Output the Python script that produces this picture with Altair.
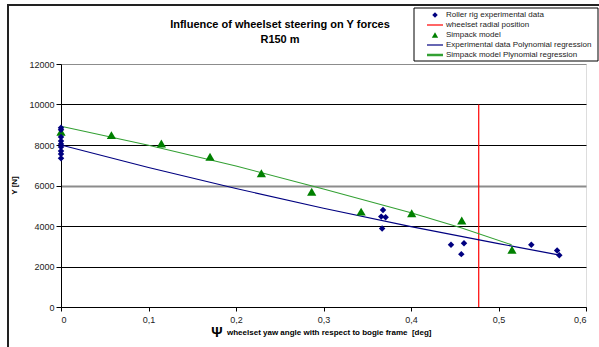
import altair as alt
import pandas as pd

# ---- data ----
exp_x = [0, 0, 0, 0, 0, 0, 0, 0, 0,
         0.368, 0.366, 0.371, 0.367, 0.4457, 0.4606, 0.4575, 0.5375, 0.567, 0.5695]
exp_y = [8850, 8750, 8400, 8200, 8050, 7900, 7700, 7550, 7350,
         4793, 4463, 4433, 3872, 3069, 3153, 2611, 3069, 2788, 2561]
sim_x = [0, 0.0576, 0.1147, 0.1703, 0.229, 0.2865, 0.343, 0.4008, 0.458, 0.5154]
sim_y = [8650, 8488, 8079, 7419, 6601, 5695, 4710, 4630, 4266, 2823]
exp_fit_x = [0, 0.1, 0.2, 0.3, 0.4, 0.5, 0.57]
exp_fit_y = [8000, 6890, 5850, 4880, 3970, 3130, 2560]
sim_fit_x = [0, 0.1, 0.2, 0.3, 0.4, 0.458, 0.515]
sim_fit_y = [8930, 7990, 6960, 5830, 4650, 3900, 3070]
radial_x = [0.4774, 0.4774]
radial_y = [0, 10000]

x_ticks = [0, 0.1, 0.2, 0.3, 0.4, 0.5, 0.6]
y_ticks = [0, 2000, 4000, 6000, 8000, 10000, 12000]

title_lines = ["Influence of wheelset steering on Y forces", "R150 m"]
y_title = "Y [N]"
x_title_symbol = "Ψ"
x_title = "wheelset yaw angle with respect to bogie frame \u00a0[deg]"
legend_labels = ["Roller rig experimental data", "wheelset radial position",
                 "Simpack model", "Experimental data Polynomial regression",
                 "Simpack model Plynomial regression"]

FONT = "Liberation Sans"
NAVY = "#000080"
GREEN_PT = "#008000"
GREEN_LN = "#33a033"
RED = "#ff0000"

W, H = 525, 243

x_scale = alt.Scale(domain=[0, 0.6], nice=False, zero=False)
y_scale = alt.Scale(domain=[0, 12000], nice=False)

x_axis = alt.Axis(values=x_ticks, grid=False, title=None,
                  labelExpr="replace(format(datum.value, '.1~f'), '.', ',')",
                  labelFont=FONT, labelFontSize=9, labelColor="#222",
                  domainColor="black", tickColor="black", tickSize=4,
                  labelPadding=4)
y_axis = alt.Axis(values=y_ticks, grid=True, title=None, format="d",
                  gridColor={"condition": {"test": "datum.value == 6000 || datum.value == 12000",
                                           "value": "#8c8c8c"}, "value": "black"},
                  gridWidth={"condition": {"test": "datum.value == 6000", "value": 2},
                             "value": 1},
                  labelFont=FONT, labelFontSize=9, labelColor="#222",
                  domainColor="black", tickColor="black", tickSize=5,
                  labelPadding=2)

X = alt.X("x:Q", scale=x_scale, axis=x_axis)
Y = alt.Y("y:Q", scale=y_scale, axis=y_axis)

exp_df = pd.DataFrame({"x": exp_x, "y": exp_y})
sim_df = pd.DataFrame({"x": sim_x, "y": sim_y})
expfit_df = pd.DataFrame({"x": exp_fit_x, "y": exp_fit_y})
simfit_df = pd.DataFrame({"x": sim_fit_x, "y": sim_fit_y})
radial_df = pd.DataFrame({"x": radial_x, "y": radial_y})

radial = alt.Chart(radial_df).mark_line(color=RED, strokeWidth=1.2).encode(x=X, y=Y)
exp_line = alt.Chart(expfit_df).mark_line(color=NAVY, strokeWidth=1.1).encode(x=X, y=Y)
sim_line = alt.Chart(simfit_df).mark_line(color=GREEN_LN, strokeWidth=1.1).encode(x=X, y=Y)
exp_pts = alt.Chart(exp_df).mark_point(shape="diamond", filled=True, color=NAVY,
                                       size=42, opacity=1).encode(x=X, y=Y)
sim_pts = alt.Chart(sim_df).mark_point(shape="triangle-up", filled=True, color=GREEN_PT,
                                       size=85, opacity=1).encode(x=X, y=Y)

one = alt.Data(values=[{"a": 1}])

def txt(text, x, y, size, bold=False, align="center", angle=None, color="black"):
    kw = dict(text=text, font=FONT, fontSize=size, align=align, baseline="middle",
              color=color, fontWeight="bold" if bold else "normal")
    if angle is not None:
        kw["angle"] = angle
    return alt.Chart(one).mark_text(**kw).encode(x=alt.value(x), y=alt.value(y))

# outer frame
frame = alt.Chart(one).mark_rect(fill=None, stroke="#222", strokeWidth=2).encode(
    x=alt.value(-53), x2=alt.value(560), y=alt.value(-59), y2=alt.value(330))

decor = [
    txt(title_lines[0], 219, -39, 11, bold=True),
    txt(title_lines[1], 219, -24, 11, bold=True),
    txt(y_title, -46, H / 2, 8, bold=True, angle=270),
    txt(x_title_symbol, 156, H + 26, 14, bold=True),
    txt(x_title, 166, H + 26, 8, bold=True, align="left"),
]

# legend
lg_x0, lg_y0 = 353, -56
legend_box = alt.Chart(one).mark_rect(fill="white", stroke="black", strokeWidth=1).encode(
    x=alt.value(lg_x0), x2=alt.value(537), y=alt.value(lg_y0), y2=alt.value(-3))
legend_layers = [legend_box]
rows_y = [-49, -39, -29, -19, -9]
for i, lab in enumerate(legend_labels):
    yy = rows_y[i]
    if i == 0:
        legend_layers.append(alt.Chart(one).mark_point(shape="diamond", filled=True, color=NAVY,
                                                        size=30, opacity=1).encode(
            x=alt.value(374), y=alt.value(yy)))
    elif i == 2:
        legend_layers.append(alt.Chart(one).mark_point(shape="triangle-up", filled=True,
                                                        color=GREEN_PT, size=40, opacity=1).encode(
            x=alt.value(374), y=alt.value(yy)))
    else:
        col = {1: RED, 3: NAVY, 4: GREEN_LN}[i]
        sw = 2.5 if i == 4 else 1.2
        legend_layers.append(alt.Chart(one).mark_rule(color=col, strokeWidth=sw).encode(
            x=alt.value(366), x2=alt.value(382), y=alt.value(yy)))
    legend_layers.append(txt(lab, 385, yy, 8, align="left", color="#222"))

chart = alt.layer(
    radial, exp_line, sim_line, sim_pts, exp_pts, frame, *decor, *legend_layers
).properties(
    width=W, height=H,
    autosize=alt.AutoSizeParams(type="none"),
    padding={"left": 61, "top": 64, "right": 13, "bottom": 40},
).configure_view(stroke="#8c8c8c", strokeWidth=1).configure(background="white")

chart.save("out.html", embed_options={"renderer": "svg", "actions": False})
